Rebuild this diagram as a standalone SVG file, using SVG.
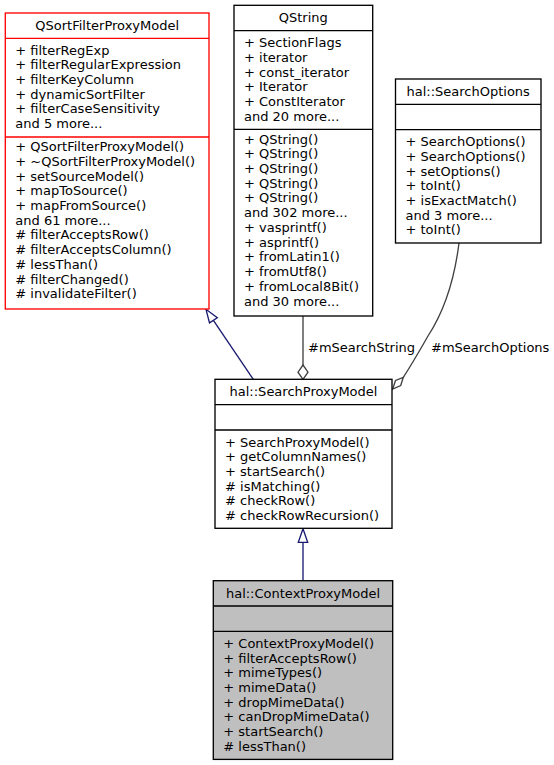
<svg xmlns="http://www.w3.org/2000/svg" width="554" height="765" viewBox="0 0 554 765">
<style>
text{font-family:"DejaVu Sans",sans-serif;font-size:13px;fill:#000}
.t{text-anchor:middle}
.box{fill:#fff;stroke:#000;stroke-width:1.33}
.red{stroke:#ff0000}
.cur{fill:#bfbfbf}
.sep{stroke:#000;stroke-width:1.33}
.sepr{stroke:#ff0000;stroke-width:1.33}
.inh{stroke:#191970;stroke-width:1.33;fill:none}
.inhh{stroke:#191970;stroke-width:1.33;fill:#fff}
.use{stroke:#404040;stroke-width:1.33;fill:none}
.useh{stroke:#404040;stroke-width:1.33;fill:#fff}
</style>
<g id="connectors">
<path class="inh" d="M253.3,379.3L213.4,320.3"/>
<polygon class="inhh" points="206,309.3 209.5,322.9 217.3,317.7"/>
<path class="inh" d="M303,580.7L303,542.3"/>
<polygon class="inhh" points="303,528.7 298.3,542.3 307.7,542.3"/>
<path class="use" d="M303,316L303,365"/>
<polygon class="useh" points="303,379.3 298,372.2 303,365 308,372.2"/>
<text x="308" y="352">#mSearchString</text>
<path class="use" d="M459,243C455,275 445,310 428,336C420,350 412,364 403.3,377.3"/>
<polygon class="useh" points="392.7,389 395.5,380.5 403.3,377.3 400.7,385.5"/>
<text x="431" y="352">#mSearchOptions</text>
</g>
<g id="QSortFilterProxyModel">
<rect class="box red" x="5.3" y="13" width="203.7" height="296"/>
<line class="sepr" x1="5.3" y1="38.3" x2="209" y2="38.3"/>
<line class="sepr" x1="5.3" y1="137" x2="209" y2="137"/>
<text class="t" x="107.2" y="29.8">QSortFilterProxyModel</text>
<text x="15.3" y="54.6">+ filterRegExp</text>
<text x="15.3" y="69.3">+ filterRegularExpression</text>
<text x="15.3" y="84">+ filterKeyColumn</text>
<text x="15.3" y="98.6">+ dynamicSortFilter</text>
<text x="15.3" y="113.3">+ filterCaseSensitivity</text>
<text x="15.3" y="128">and 5 more...</text>
<text x="15.3" y="151">+ QSortFilterProxyModel()</text>
<text x="15.3" y="165.7">+ ~QSortFilterProxyModel()</text>
<text x="15.3" y="180.5">+ setSourceModel()</text>
<text x="15.3" y="195.2">+ mapToSource()</text>
<text x="15.3" y="209.9">+ mapFromSource()</text>
<text x="15.3" y="224.7">and 61 more...</text>
<text x="15.3" y="239.4">#  filterAcceptsRow()</text>
<text x="15.3" y="254.1">#  filterAcceptsColumn()</text>
<text x="15.3" y="268.8">#  lessThan()</text>
<text x="15.3" y="283.6">#  filterChanged()</text>
<text x="15.3" y="298.3">#  invalidateFilter()</text>
</g>
<g id="QString">
<rect class="box" x="234" y="5.3" width="138.7" height="310.7"/>
<line class="sep" x1="234" y1="30.6" x2="372.7" y2="30.6"/>
<line class="sep" x1="234" y1="129.3" x2="372.7" y2="129.3"/>
<text class="t" x="303.3" y="22.1">QString</text>
<text x="244" y="47.1">+ SectionFlags</text>
<text x="244" y="61.8">+ iterator</text>
<text x="244" y="76.5">+ const_iterator</text>
<text x="244" y="91.1">+ Iterator</text>
<text x="244" y="105.8">+ ConstIterator</text>
<text x="244" y="120.5">and 20 more...</text>
<text x="244" y="143.5">+ QString()</text>
<text x="244" y="158.2">+ QString()</text>
<text x="244" y="173">+ QString()</text>
<text x="244" y="187.7">+ QString()</text>
<text x="244" y="202.4">+ QString()</text>
<text x="244" y="217.2">and 302 more...</text>
<text x="244" y="231.9">+ vasprintf()</text>
<text x="244" y="246.6">+ asprintf()</text>
<text x="244" y="261.3">+ fromLatin1()</text>
<text x="244" y="276.1">+ fromUtf8()</text>
<text x="244" y="290.8">+ fromLocal8Bit()</text>
<text x="244" y="305.5">and 30 more...</text>
</g>
<g id="SearchOptions">
<rect class="box" x="395.5" y="79" width="145.5" height="164"/>
<line class="sep" x1="395.5" y1="104.3" x2="541" y2="104.3"/>
<line class="sep" x1="395.5" y1="129.7" x2="541" y2="129.7"/>
<text class="t" x="468.2" y="95.8">hal::SearchOptions</text>
<text x="405.5" y="146.2">+ SearchOptions()</text>
<text x="405.5" y="160.9">+ SearchOptions()</text>
<text x="405.5" y="175.5">+ setOptions()</text>
<text x="405.5" y="190.2">+ toInt()</text>
<text x="405.5" y="204.9">+ isExactMatch()</text>
<text x="405.5" y="219.5">and 3 more...</text>
<text x="405.5" y="234.2">+ toInt()</text>
</g>
<g id="SearchProxyModel">
<rect class="box" x="215" y="379.3" width="177" height="149"/>
<line class="sep" x1="215" y1="404.6" x2="392" y2="404.6"/>
<line class="sep" x1="215" y1="430" x2="392" y2="430"/>
<text class="t" x="303.5" y="396.1">hal::SearchProxyModel</text>
<text x="225" y="446.5">+ SearchProxyModel()</text>
<text x="225" y="461.2">+ getColumnNames()</text>
<text x="225" y="475.8">+ startSearch()</text>
<text x="225" y="490.5">#  isMatching()</text>
<text x="225" y="505.2">#  checkRow()</text>
<text x="225" y="519.8">#  checkRowRecursion()</text>
</g>
<g id="ContextProxyModel">
<rect class="box cur" x="213.3" y="580.7" width="179.4" height="178.7"/>
<line class="sep" x1="213.3" y1="606" x2="392.7" y2="606"/>
<line class="sep" x1="213.3" y1="631.3" x2="392.7" y2="631.3"/>
<text class="t" x="303" y="597.5">hal::ContextProxyModel</text>
<text x="223.3" y="647.8">+ ContextProxyModel()</text>
<text x="223.3" y="662.5">+ filterAcceptsRow()</text>
<text x="223.3" y="677.1">+ mimeTypes()</text>
<text x="223.3" y="691.8">+ mimeData()</text>
<text x="223.3" y="706.5">+ dropMimeData()</text>
<text x="223.3" y="721.1">+ canDropMimeData()</text>
<text x="223.3" y="735.8">+ startSearch()</text>
<text x="223.3" y="750.5">#  lessThan()</text>
</g>
</svg>
